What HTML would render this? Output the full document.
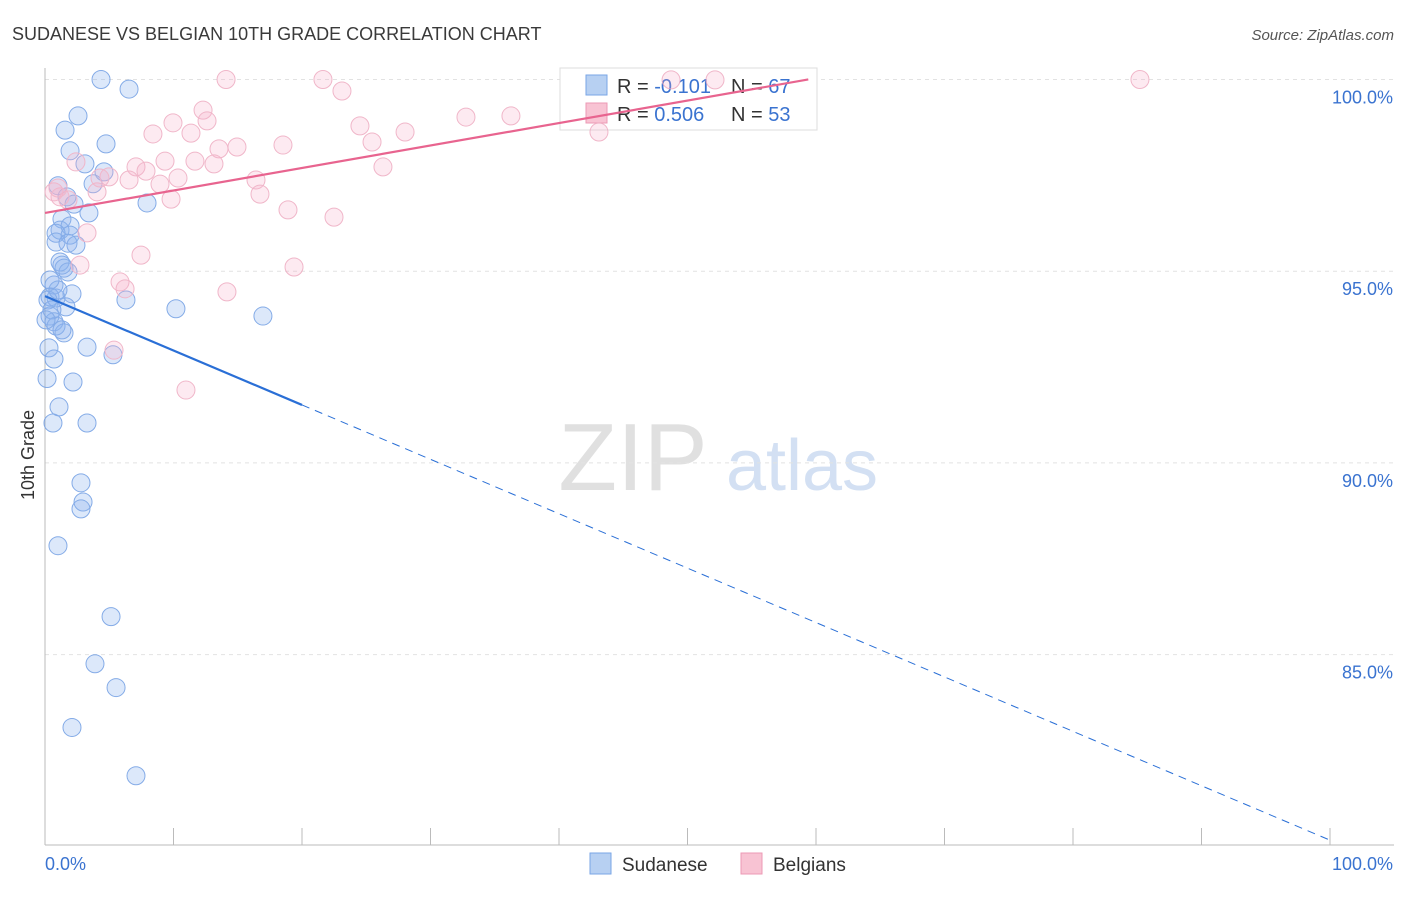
<!DOCTYPE html>
<html><head><meta charset="utf-8"><style>
body{margin:0;background:#fff;font-family:"Liberation Sans",sans-serif;}
svg text{font-family:"Liberation Sans",sans-serif;}
</style></head><body>
<svg id="chart" width="1406" height="892" xmlns="http://www.w3.org/2000/svg">
<text x="12" y="40" font-size="18" fill="#3a3a3a">SUDANESE VS BELGIAN 10TH GRADE CORRELATION CHART</text>
<text x="1394" y="40" font-size="15" fill="#555" text-anchor="end" font-style="italic">Source: ZipAtlas.com</text>
<g>
<text x="633" y="490" font-size="96" fill="#e0e0e0" font-family="Liberation Serif, serif" text-anchor="middle">ZIP</text>
<text x="802" y="490" font-size="72" fill="#d3e0f3" text-anchor="middle">atlas</text>
</g>
<text transform="translate(34,455) rotate(-90)" font-size="18" fill="#333" text-anchor="middle">10th Grade</text>
<g id="grid"></g>
<g id="axes"></g>
<g>
<rect x="560" y="68" width="257" height="62" fill="#fff" stroke="#ddd"/>
<rect x="586" y="75" width="21" height="20" fill="#b7d0f2" stroke="#7aa6e6"/>
<text x="617" y="93" font-size="20" fill="#333">R = <tspan fill="#3a73d0">-0.101</tspan></text>
<text x="731" y="93" font-size="20" fill="#333">N = <tspan fill="#3a73d0">67</tspan></text>
<rect x="586" y="103" width="21" height="20" fill="#f8c3d3" stroke="#ec9ab4"/>
<text x="617" y="121" font-size="20" fill="#333">R = <tspan fill="#3a73d0">0.506</tspan></text>
<text x="731" y="121" font-size="20" fill="#333">N = <tspan fill="#3a73d0">53</tspan></text>
</g>
<g id="points" opacity="0.85"></g>
<g id="trends"></g>
<g>
<rect x="590" y="853" width="21" height="21" fill="#b7d0f2" stroke="#7aa6e6"/>
<text x="622" y="871" font-size="19" fill="#333">Sudanese</text>
</g>
<g>
<rect x="741" y="853" width="21" height="21" fill="#f8c3d3" stroke="#ec9ab4"/>
<text x="773" y="871" font-size="19" fill="#333">Belgians</text>
</g>
</svg>
<script>
const yTicks=[100,95,90,85];
const yTickLabels=["100.0%","95.0%","90.0%","85.0%"];
const xTickLabels=["0.0%","100.0%"];
const sudX=[4.36,6.54,2.57,1.56,4.75,1.95,3.11,4.59,1.01,3.74,7.94,1.71,2.26,3.42,1.32,1.17,1.95,0.86,1.95,0.86,1.79,2.41,1.17,1.48,1.79,0.70,0.39,2.10,0.86,1.63,6.30,10.19,16.96,0.39,0.70,0.86,1.48,1.32,3.27,0.31,0.70,5.29,0.16,2.18,1.09,0.62,3.27,2.80,2.96,2.80,1.01,5.14,3.89,5.53,2.10,7.08,0.23,0.54,1.01,0.39,0.08,1.32];
const sudY=[100.0,99.75,99.05,98.68,98.32,98.14,97.80,97.59,97.23,97.28,96.78,96.94,96.75,96.52,96.36,96.07,96.18,95.99,95.94,95.76,95.73,95.68,95.24,95.08,94.98,94.64,94.33,94.41,94.30,94.07,94.25,94.02,93.83,93.83,93.68,93.57,93.39,93.47,93.02,93.00,92.71,92.82,92.20,92.11,91.46,91.04,91.04,89.48,88.98,88.80,87.84,85.99,84.76,84.14,83.10,81.84,94.25,93.99,94.51,94.77,93.73,95.16];
const belX=[14.09,21.63,23.11,12.30,12.61,9.96,8.40,11.36,24.51,32.76,36.26,28.02,25.45,18.52,14.94,13.54,9.34,11.67,7.08,7.86,4.98,6.54,10.35,13.15,26.30,16.42,16.73,8.95,9.81,4.05,2.41,0.70,1.17,1.79,18.91,22.49,3.27,2.72,7.47,19.38,5.84,6.23,14.16,5.37,10.97,43.11,48.72,52.14,85.21,1.01,4.28];
const belY=[100.0,100.0,99.70,99.20,98.92,98.87,98.58,98.60,98.79,99.02,99.05,98.63,98.37,98.29,98.24,98.19,97.87,97.87,97.72,97.61,97.46,97.38,97.43,97.80,97.72,97.38,97.01,97.27,96.88,97.07,97.85,97.07,96.94,96.86,96.60,96.41,96.00,95.16,95.42,95.11,94.72,94.54,94.46,92.94,91.90,98.63,99.99,99.99,100.0,97.17,97.43];
const sudTrend=[94.35,-0.1419,20];
const belTrend=[96.52,0.0586,59.4];
const NS="http://www.w3.org/2000/svg";
const sx=v=>45+v*12.85;
const sy=v=>79.5+(100-v)*38.34;
function mk(t,a,p){const e=document.createElementNS(NS,t);for(const k in a)e.setAttribute(k,a[k]);p.appendChild(e);return e;}
const grid=document.getElementById('grid'),axes=document.getElementById('axes'),pts=document.getElementById('points'),tr=document.getElementById('trends');
yTicks.forEach((t,i)=>{
 const l=mk('line',{x1:45,x2:1394,y1:sy(t),y2:sy(t),stroke:'#e2e2e2','stroke-dasharray':'4,4'},grid);
 
 
 const tx=mk('text',{x:1393,y:sy(t)+24,'font-size':18,fill:'#3a73d0','text-anchor':'end'},axes);
 tx.textContent=yTickLabels[i];
 
 
});
const ya=mk('line',{x1:45,x2:45,y1:68,y2:845,stroke:'#bbb'},axes);


const xa=mk('line',{x1:45,x2:1394,y1:845,y2:845,stroke:'#bbb'},axes);


for(let i=0;i<=10;i++){
 const tk=mk('line',{x1:sx(i*10),x2:sx(i*10),y1:828,y2:845,stroke:'#bbb'},axes);
 
 
}
[[0,'start',45],[100,'end',1393]].forEach((d,i)=>{
 const tx=mk('text',{x:d[2],y:870,'font-size':18,fill:'#3a73d0','text-anchor':d[1]},axes);
 tx.textContent=xTickLabels[i];
 
 
});
sudX.forEach((x,i)=>{
 const c=mk('circle',{cx:sx(x),cy:sy(sudY[i]),r:9,fill:'rgba(120,165,235,0.3)',stroke:'#6f9de3','stroke-width':1},pts);
 
 
});
belX.forEach((x,i)=>{
 const c=mk('circle',{cx:sx(x),cy:sy(belY[i]),r:9,fill:'rgba(245,165,195,0.28)',stroke:'#eeaac0','stroke-width':1},pts);
 
 
});
const s1=mk('line',{x1:sx(0),y1:sy(sudTrend[0]),x2:sx(sudTrend[2]),y2:sy(sudTrend[0]+sudTrend[1]*sudTrend[2]),stroke:'#2a6fd6','stroke-width':2.2},tr);


const s2=mk('line',{x1:sx(sudTrend[2]),y1:sy(sudTrend[0]+sudTrend[1]*sudTrend[2]),x2:sx(100),y2:sy(sudTrend[0]+sudTrend[1]*100),stroke:'#2a6fd6','stroke-width':1,'stroke-dasharray':'8,6'},tr);


const b1=mk('line',{x1:sx(0),y1:sy(belTrend[0]),x2:sx(belTrend[2]),y2:sy(belTrend[0]+belTrend[1]*belTrend[2]),stroke:'#e8648f','stroke-width':2.2},tr);


</script>
</body></html>
